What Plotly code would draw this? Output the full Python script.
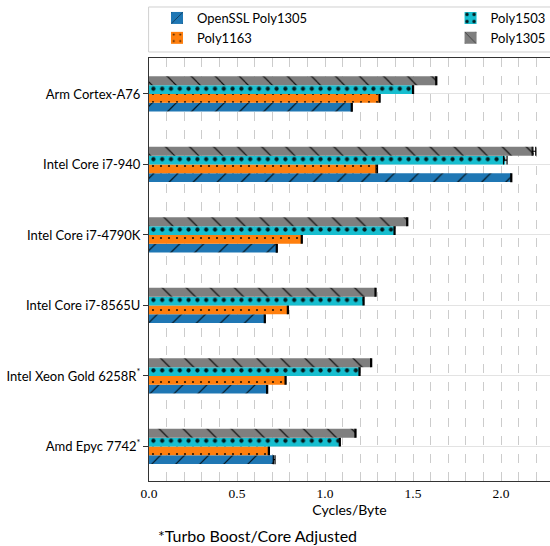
import plotly.graph_objects as go

categories = ["Arm Cortex-A76", "Intel Core i7-940", "Intel Core i7-4790K",
              "Intel Core i7-8565U", "Intel Xeon Gold 6258R<sup>*</sup>",
              "Amd Epyc 7742<sup>*</sup>"]
series_names = ["OpenSSL Poly1305", "Poly1163", "Poly1503", "Poly1305"]
openssl_poly1305 = [1.152, 2.058, 0.726, 0.658, 0.671, 0.711]
poly1163 = [1.31, 1.294, 0.868, 0.789, 0.776, 0.681]
poly1503 = [1.50, 2.024, 1.395, 1.219, 1.196, 1.084]
poly1305 = [1.632, 2.187, 1.467, 1.287, 1.262, 1.173]
err_openssl = [0.003, 0.003, 0.003, 0.003, 0.003, 0.005]
err_poly1163 = [0.003, 0.004, 0.003, 0.003, 0.003, 0.003]
err_poly1503 = [0.003, 0.01, 0.003, 0.003, 0.003, 0.003]
err_poly1305 = [0.003, 0.01, 0.003, 0.003, 0.003, 0.003]

values = [openssl_poly1305, poly1163, poly1503, poly1305]
errors = [err_openssl, err_poly1163, err_poly1503, err_poly1305]
colors = ["#1f77b4", "#ff7f0e", "#17becf", "#7f7f7f"]
patterns = [dict(shape="/", size=17, solidity=0.07),
            dict(shape=".", size=8, solidity=0.06),
            dict(shape=".", size=8.8, solidity=0.18),
            dict(shape="\\", size=17, solidity=0.07)]
legends = ["legend", "legend", "legend2", "legend2"]

n = len(categories)
pos = [n - 1 - i for i in range(n)]
bw = 0.125

fig = go.Figure()
for k, name in enumerate(series_names):
    off = (k - 1.5) * bw
    p = patterns[k]
    fig.add_trace(go.Bar(
        x=values[k], y=[v + off for v in pos], orientation="h", width=bw,
        name=name, legend=legends[k],
        marker=dict(color=colors[k], line=dict(width=0),
                    pattern=dict(shape=p["shape"], size=p["size"], solidity=p["solidity"],
                                 fgcolor="black", fgopacity=0.85, fillmode="overlay")),
        error_x=dict(type="data", array=errors[k], color="black", thickness=1.2, width=4.5),
    ))

sans = "Lato"
fig.update_layout(
    width=550, height=546,
    margin=dict(l=149, r=0, t=58, b=65, autoexpand=False),
    paper_bgcolor="white", plot_bgcolor="white",
    barmode="overlay",
    font=dict(family=sans, size=14, color="black"),
    legend=dict(x=0.02, xanchor="left", y=1.13, yanchor="top",
                bgcolor="rgba(0,0,0,0)", borderwidth=0, font=dict(size=13)),
    legend2=dict(x=0.752, xanchor="left", y=1.13, yanchor="top",
                 bgcolor="rgba(0,0,0,0)", borderwidth=0, font=dict(size=13)),
    xaxis=dict(range=[0, 2.278], dtick=0.5, tick0=0, tickformat=".1f",
               showline=True, mirror=True, linecolor="#333333", linewidth=1,
               ticks="", ticklabelstandoff=0,
               tickfont=dict(family="Liberation Serif", size=13.5),
               showgrid=True, gridcolor="#cccccc", griddash="dash", gridwidth=0.8,
               minor=dict(dtick=0.1, showgrid=True, gridcolor="#cccccc", griddash="dash",
                          gridwidth=0.8),
               zeroline=False,
               title=dict(text="Cycles/Byte", font=dict(family=sans, size=14), standoff=0)),
    yaxis=dict(range=[-0.49, 5.51], tickvals=pos, ticktext=categories,
               showline=True, linecolor="#333333", linewidth=1,
               ticks="outside", ticklen=5, tickcolor="#333333",
               tickfont=dict(family=sans, size=13),
               showgrid=True, gridcolor="#e3e3e3", gridwidth=1, zeroline=False),
    shapes=[dict(type="rect", xref="paper", yref="paper", x0=-0.001, x1=1.02,
                 y0=1.0142, y1=1.1206, line=dict(color="#d0d0d0", width=1),
                 fillcolor="rgba(0,0,0,0)", layer="below")],
    annotations=[dict(text="*Turbo Boost/Core Adjusted", xref="paper", yref="paper",
                      x=0.018, y=-0.128, xanchor="left", yanchor="middle",
                      showarrow=False, font=dict(family=sans, size=16))],
)

fig.write_html("out.html")
